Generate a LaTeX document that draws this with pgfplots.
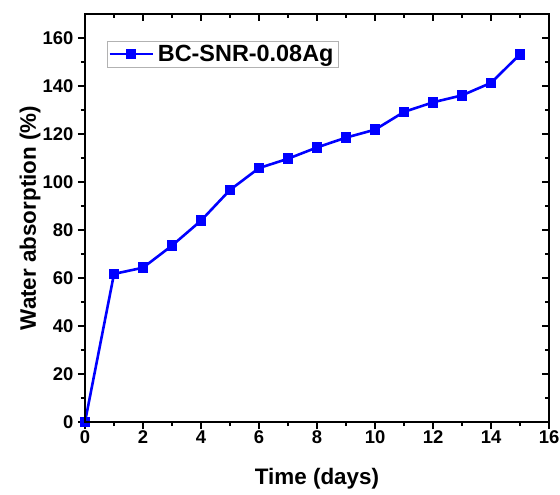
\documentclass[border=0pt]{standalone}
\usepackage{fontspec}
\setmainfont{Liberation Sans}
\usepackage{pgfplots}
\pgfplotsset{compat=1.18}
\begin{document}
\begin{tikzpicture}
\begin{axis}[
  scale only axis,
  width=464bp, height=408bp,
  xmin=0, xmax=16, ymin=0, ymax=170,
  xtick={0,2,...,16}, ytick={0,20,...,160},
  minor x tick num=1, minor y tick num=1,
  xtick pos=bottom, ytick pos=left,
  tick align=outside,
  major tick length=7bp, minor tick length=4bp,
  every tick/.style={black, line width=1.3pt},
  axis line style={line width=1.6pt},
  /pgf/number format/assume math mode=true,
  ticklabel style={font=\bfseries\fontsize{18.5}{20}\selectfont},
  xticklabel style={yshift=2bp},
  yticklabel style={xshift=-1bp},
  xlabel={Time (days)}, ylabel={Water absorption (\%)},
  label style={font=\bfseries\fontsize{22.5}{25}\selectfont},
  xlabel style={at={(axis description cs:0.5,-0.14)}, anchor=center},
  ylabel style={at={(axis description cs:-0.1185,0.5)}, anchor=center},
  legend style={at={(axis description cs:0.0474,0.934)}, anchor=north west, draw=gray!60, line width=0.6pt,
     font=\bfseries\fontsize{23.5}{26}\selectfont, inner xsep=1bp, inner ysep=2bp,
     nodes={inner xsep=4bp}},
  legend cell align=left,
  legend image code/.code={\draw[mark repeat=2,mark phase=2] plot coordinates {(-2bp,0bp) (19.5bp,0bp) (41bp,0bp)};},
]
\addplot[blue, line width=2.6pt, mark=square*, mark size=4bp, mark options={solid}]
coordinates {
(0,0) (1,61.7) (2,64.3) (3,73.5) (4,83.9) (5,96.7) (6,105.8) (7,109.7) (8,114.4)
(9,118.5) (10,121.8) (11,129.2) (12,133.2) (13,136.1) (14,141.3) (15,153.2)
};
\addlegendentry{BC-SNR-0.08Ag}
\end{axis}
\begin{axis}[
  scale only axis,
  width=464bp, height=408bp,
  xmin=0, xmax=16, ymin=0, ymax=170,
  xtick={0,2,...,16}, ytick={0,20,...,160},
  minor x tick num=1, minor y tick num=1,
  xtick pos=top, ytick pos=right,
  tick align=inside,
  major tick length=7bp, minor tick length=4bp,
  every tick/.style={black, line width=1.3pt},
  axis line style={line width=1.6pt},
  xticklabels={}, yticklabels={},
]
\end{axis}
\pgfresetboundingbox
\useasboundingbox ([shift={(-85bp,-73bp)}]current axis.south west) rectangle ([shift={(11bp,14bp)}]current axis.north east);
\end{tikzpicture}
\end{document}
